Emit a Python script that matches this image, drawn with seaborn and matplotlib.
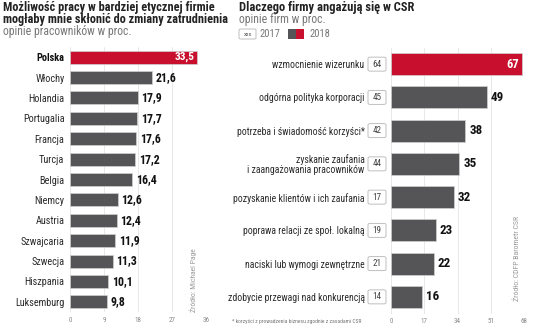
import matplotlib
matplotlib.use("Agg")
import matplotlib.pyplot as plt
import seaborn as sns
import pandas as pd
from matplotlib import font_manager
from matplotlib.patches import FancyBboxPatch, Rectangle

# ---------------- data ----------------
countries = ["Polska", "Włochy", "Holandia", "Portugalia", "Francja", "Turcja",
             "Belgia", "Niemcy", "Austria", "Szwajcaria", "Szwecja", "Hiszpania",
             "Luksemburg"]
country_values = [33.5, 21.6, 17.9, 17.7, 17.6, 17.2, 16.4, 12.6, 12.4, 11.9,
                  11.3, 10.1, 9.8]
left_ticks = [0, 9, 18, 27, 36]

reasons = ["wzmocnienie wizerunku", "odgórna polityka korporacji",
           "potrzeba i świadomość korzyści*",
           "zyskanie zaufania\ni zaangażowania pracowników",
           "pozyskanie klientów i ich zaufania",
           "poprawa relacji ze społ. lokalną",
           "naciski lub wymogi zewnętrzne",
           "zdobycie przewagi nad konkurencją"]
values_2018 = [67, 49, 38, 35, 32, 23, 22, 16]
values_2017 = [64, 45, 42, 44, 17, 19, 21, 14]
right_ticks = [0, 17, 34, 51, 68]

RED = "#c8102e"
GREY = "#555557"
TXT = "#2b2b2b"
LIGHT = "#8a8a8a"

sns.set_style("white")
available = {f.name for f in font_manager.fontManager.ttflist}
family = "Roboto"
for cand in ["Liberation Sans Narrow", "Roboto Condensed", "Roboto"]:
    if cand in available:
        family = cand
        break
NARROW = family != "Roboto"
plt.rcParams["font.family"] = [family, "DejaVu Sans"]

W, H = 536, 332
fig = plt.figure(figsize=(W / 100, H / 100), dpi=100)


def fx(px):
    return px / W


def fy(py):
    return 1 - py / H


s = 1.0 if NARROW else 0.86  # font scale

# ---------------- left panel ----------------
axL = fig.add_axes([fx(70), fy(312), fx(136), (312 - 47) / H])
dfL = pd.DataFrame({"kraj": countries, "wartosc": country_values})
palL = [RED] + [GREY] * (len(countries) - 1)
sns.barplot(data=dfL, x="wartosc", y="kraj", hue="kraj", palette=palL,
            legend=False, ax=axL, width=0.64, orient="h", saturation=1,
            edgecolor="#d0d0d0", linewidth=0.5, zorder=3)
axL.set_xlim(0, 36)
axL.set_ylim(len(countries) - 0.5, -0.5)
axL.set_xticks(left_ticks)
axL.set_xlabel("")
axL.set_ylabel("")
axL.tick_params(axis="x", length=0, labelsize=5.0 * s, labelcolor=LIGHT, pad=3.5)
axL.tick_params(axis="y", length=0, labelsize=7.4 * s, labelcolor=TXT, pad=4)
axL.get_yticklabels()[0].set_fontweight("bold")
axL.get_yticklabels()[0].set_color("#111111")
axL.grid(axis="x", color="#e4e4e4", lw=0.6, zorder=0)
axL.grid(axis="y", visible=False)
for sp in axL.spines.values():
    sp.set_visible(False)
for i, v in enumerate(country_values):
    lab = f"{v:.1f}".replace(".", ",")
    if i == 0:
        axL.text(v - 0.6, i, lab, color="white", fontsize=8.2 * s, fontweight="bold",
                 ha="right", va="center", zorder=5)
    else:
        axL.text(v + 1.0, i, lab, color="#111111", fontsize=8.6 * s, fontweight="bold",
                 ha="left", va="center", zorder=5)

fig.text(fx(193), fy(280), "Źródło: Michael Page", rotation=90, fontsize=5.5 * s,
         color="#9a9a9a", ha="center", va="center")

# ---------------- right panel ----------------
axR = fig.add_axes([fx(391), fy(313.5), fx(133), (313.5 - 47.5) / H])
dfR = pd.DataFrame({"powod": reasons, "r2018": values_2018})
palR = [RED] + [GREY] * (len(reasons) - 1)
sns.barplot(data=dfR, x="r2018", y="powod", hue="powod", palette=palR,
            legend=False, ax=axR, width=0.66, orient="h", saturation=1,
            edgecolor="#d0d0d0", linewidth=0.5, zorder=3)
axR.set_xlim(0, 68)
axR.set_ylim(len(reasons) - 0.5, -0.5)
axR.set_xticks(right_ticks)
axR.set_xlabel("")
axR.set_ylabel("")
axR.tick_params(axis="x", length=0, labelsize=5.0 * s, labelcolor=LIGHT, pad=3.5)
axR.tick_params(axis="y", length=0, labelsize=7.0 * s, labelcolor=TXT, pad=19)
for t in axR.get_yticklabels():
    t.set_multialignment("right")
    t.set_linespacing(1.0)
axR.grid(axis="x", color="#e4e4e4", lw=0.6, zorder=0)
axR.grid(axis="y", visible=False)
for sp in axR.spines.values():
    sp.set_visible(False)
for i, v in enumerate(values_2018):
    if i == 0:
        axR.text(v - 1.5, i, str(v), color="white", fontsize=9.0 * s, fontweight="bold",
                 ha="right", va="center", zorder=5)
    else:
        axR.text(v + 2.0, i, str(v), color="#111111", fontsize=9.4 * s, fontweight="bold",
                 ha="left", va="center", zorder=5)

# 2017 value boxes
fig.canvas.draw()
inv = fig.transFigure.inverted()
for i, v in enumerate(values_2017):
    _, ypix = axR.transData.transform((0, i))
    _, yf = inv.transform((0, ypix))
    bw, bh = fx(18), 14 / H
    box = FancyBboxPatch((fx(368), yf - bh / 2), bw, bh,
                         boxstyle="round,pad=0,rounding_size=0.004",
                         transform=fig.transFigure, fc="white", ec="#b5b5b5", lw=0.6)
    fig.patches.append(box)
    fig.text(fx(377), yf, str(v), fontsize=6.6 * s, color="#444444",
             ha="center", va="center")

fig.text(fx(517), fy(258), "Źródło: CDFP Barometr CSR", rotation=90, fontsize=5.6 * s,
         color="#9a9a9a", ha="center", va="center")
fig.text(fx(232), fy(321), "* korzyści z prowadzenia biznesu zgodnie z zasadami CSR",
         fontsize=4.1 * s, color="#777777", ha="left", va="center")

# ---------------- titles ----------------
fig.text(fx(3), fy(8), "Możliwość pracy w bardziej etycznej firmie",
         fontsize=8.8 * s, fontweight="bold", color="#222222", ha="left", va="center")
fig.text(fx(3), fy(20), "mogłaby mnie skłonić do zmiany zatrudnienia",
         fontsize=8.8 * s, fontweight="bold", color="#222222", ha="left", va="center")
fig.text(fx(3), fy(32), "opinie pracowników w proc.",
         fontsize=8.5 * s, color="#777777", ha="left", va="center")

fig.text(fx(239), fy(8), "Dlaczego firmy angażują się w CSR",
         fontsize=9.0 * s, fontweight="bold", color="#222222", ha="left", va="center")
fig.text(fx(239), fy(20), "opinie firm w proc.",
         fontsize=8.5 * s, color="#777777", ha="left", va="center")

# legend
fig.patches.append(FancyBboxPatch((fx(239), fy(39)), fx(17), 10 / H,
                                  boxstyle="round,pad=0,rounding_size=0.003",
                                  transform=fig.transFigure, fc="white",
                                  ec="#b5b5b5", lw=0.6))
fig.text(fx(247.5), fy(34), "xxx", fontsize=4.6 * s, color="#555555",
         ha="center", va="center")
fig.text(fx(260), fy(34), "2017", fontsize=7.6 * s, color="#777777",
         ha="left", va="center")
fig.patches.append(Rectangle((fx(288), fy(39)), fx(8), 10 / H,
                             transform=fig.transFigure, fc=GREY, ec="none"))
fig.patches.append(Rectangle((fx(296), fy(39)), fx(8), 10 / H,
                             transform=fig.transFigure, fc=RED, ec="none"))
fig.text(fx(309), fy(34), "2018", fontsize=7.6 * s, color="#777777",
         ha="left", va="center")

fig.savefig("out.png", dpi=100)
